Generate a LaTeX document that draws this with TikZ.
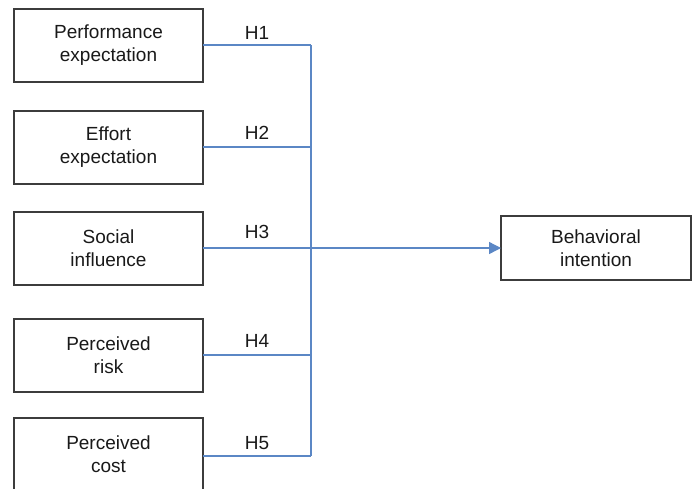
\documentclass[tikz,border=0pt]{standalone}
\usepackage{fontspec}
\setmainfont{Liberation Sans}
\usetikzlibrary{arrows.meta}
\definecolor{linkblue}{HTML}{5B87C5}
\definecolor{boxgray}{HTML}{3C3C3C}
\begin{document}
\begin{tikzpicture}[x=1pt,y=-1pt,
  box/.style={draw=boxgray,line width=2pt,minimum width=189pt,minimum height=73pt,
    align=center,inner sep=0pt,outer sep=0pt,font=\fontsize{19}{23}\selectfont,text=black!90},
  link/.style={draw=linkblue,line width=1.3pt},
  hlab/.style={font=\fontsize{19}{23}\selectfont,text=black!90,inner sep=0pt}]
\clip (0,0) rectangle (692,488);
\fill[white] (0,0) rectangle (692,488);
\node[box] (pe) at (108.5,45) {Performance\\expectation};
\node[box] (ee) at (108.5,147) {Effort\\expectation};
\node[box] (si) at (108.5,248) {Social\\influence};
\node[box] (pr) at (108.5,355) {Perceived\\risk};
\node[box] (pc) at (108.5,454) {Perceived\\cost};
\node[box,minimum width=190pt,minimum height=64pt] (bi) at (596,248) {Behavioral\\intention};
\coordinate (j1) at (311,45);
\coordinate (j2) at (311,147);
\coordinate (j4) at (311,355);
\coordinate (j5) at (311,456);
\draw[link] (pe.east) -- (j1);
\draw[link] (ee.east) -- (j2);
\draw[link] (pr.east) -- (j4);
\draw[link] (pc.east |- j5) -- (j5);
\draw[link] (j1) -- (j5);
\draw[link,-{Triangle[length=12pt,width=12pt]}] (si.east) -- (bi.west);
\node[hlab] (h1) at (257,33) {H1};
\node[hlab] (h2) at (257,133) {H2};
\node[hlab] (h3) at (257,232) {H3};
\node[hlab] (h4) at (257,341) {H4};
\node[hlab] (h5) at (257,443) {H5};
\end{tikzpicture}
\end{document}
